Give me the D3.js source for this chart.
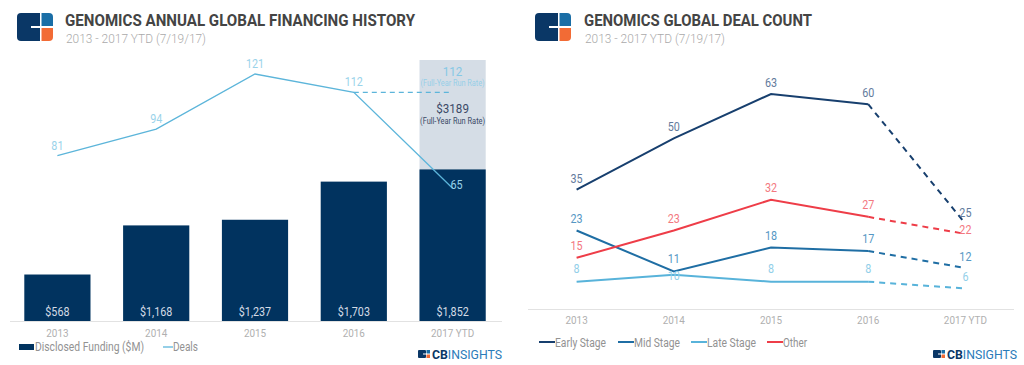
<!DOCTYPE html>
<html><head><meta charset="utf-8">
<script src="https://cdn.jsdelivr.net/npm/d3@7"></script>
<style>body{margin:0;background:#fff;}svg{display:block;font-family:Roboto,"Noto Sans",sans-serif;}
.lt{font-weight:400;}</style>
</head><body>
<svg id="c" width="1024" height="365"></svg>
<script>
const years = ["2013", "2014", "2015", "2016", "2017 YTD"];
const funding = [568, 1168, 1237, 1703, 1852];
const fundingRunRate = 3189;
const deals = [81, 94, 121, 112, 65];
const dealsRunRate = 112;
const earlyStage = [35, 50, 63, 60, 25];
const midStage = [23, 11, 18, 17, 12];
const lateStage = [8, 10, 8, 8, 6];
const otherStage = [15, 23, 32, 27, 22];
const stageNames = ["Early Stage", "Mid Stage", "Late Stage", "Other"];

const svg = d3.select("#c");
const NAVY = "#01335f";
const COND = 0.86;

// narrow the glyphs horizontally, like a condensed face
function condense(sel) {
  sel.each(function () {
    const w = this.getComputedTextLength();
    d3.select(this).attr("textLength", w * COND).attr("lengthAdjust", "spacingAndGlyphs");
  });
  return sel;
}

function logo(g, x, y) {
  const w = 36, h = 28;
  const cp = "lg" + x;
  g.append("clipPath").attr("id", cp).append("rect").attr("x", x).attr("y", y).attr("width", w).attr("height", h).attr("rx", 4);
  const lg = g.append("g").attr("clip-path", `url(#${cp})`);
  lg.append("rect").attr("x", x).attr("y", y).attr("width", 24).attr("height", h).attr("fill", "#0a3766");
  lg.append("rect").attr("x", x + 24).attr("y", y).attr("width", 12).attr("height", 13).attr("fill", "#1a6ea6");
  lg.append("rect").attr("x", x + 24).attr("y", y + 15).attr("width", 12).attr("height", 13).attr("fill", "#f26b35");
  lg.append("rect").attr("x", x + 23).attr("y", y + 15).attr("width", 1).attr("height", 13).attr("fill", "#0a3766");
  lg.append("rect").attr("x", x + 14).attr("y", y + 13).attr("width", 22).attr("height", 2).attr("fill", "#fff");
  lg.append("rect").attr("x", x + 23).attr("y", y).attr("width", 1.5).attr("height", h).attr("fill", "#fff");
}
function header(x, lx, title, tw) {
  logo(svg, lx, 13);
  svg.append("text").attr("x", x).attr("y", 26).attr("font-size", 16.5).attr("font-weight", 700)
    .attr("fill", "#444").attr("textLength", tw).attr("lengthAdjust", "spacingAndGlyphs").text(title);
  svg.append("text").attr("x", x + 1).attr("y", 43).attr("font-size", 13).attr("font-weight", 300).attr("fill", "#aaa")
    .attr("textLength", 140).attr("lengthAdjust", "spacingAndGlyphs").text("2013 - 2017 YTD (7/19/17)");
}
function cbLogo(x, y) {
  const g = svg.append("g");
  g.append("rect").attr("x", x).attr("y", y).attr("width", 8).attr("height", 8).attr("rx", 1).attr("fill", "#0a3766");
  g.append("rect").attr("x", x + 8.5).attr("y", y).attr("width", 3.5).attr("height", 3.5).attr("fill", "#1a6ea6");
  g.append("rect").attr("x", x + 8.5).attr("y", y + 4.5).attr("width", 3.5).attr("height", 3.5).attr("fill", "#f26b35");
  g.append("rect").attr("x", x + 5).attr("y", y + 3.5).attr("width", 4).attr("height", 1).attr("fill", "#fff");
  const t = g.append("text").attr("x", x + 14).attr("y", y + 8.5).attr("font-size", 12).attr("textLength", 70).attr("lengthAdjust", "spacingAndGlyphs");
  t.append("tspan").attr("font-weight", 700).attr("fill", "#0a3766").text("CB");
  t.append("tspan").attr("fill", "#2b7bb9").text("INSIGHTS");
}
function txt(x, y, s, fill, size, anchor) {
  return svg.append("text").attr("class", "lt").attr("x", x).attr("y", y).attr("font-size", size)
    .attr("fill", fill).attr("text-anchor", anchor || "start").text(s);
}

// ---------- LEFT CHART ----------
header(65, 17, "GENOMICS ANNUAL GLOBAL FINANCING HISTORY", 350);
const baseL = 321;
const xL = d3.scaleBand().domain(years).range([8, 502]).paddingInner(0.33).paddingOuter(0.165);
const yF = d3.scaleLinear().domain([0, fundingRunRate]).range([baseL, 60]);
const yD = d3.scaleLinear().domain([0, 121]).range([baseL, 74]);
const bw = xL.bandwidth();
const cx = d => xL(d) + bw / 2;

const last = years[years.length - 1];
svg.append("rect").attr("x", xL(last)).attr("y", yF(fundingRunRate)).attr("width", bw)
  .attr("height", baseL - yF(fundingRunRate)).attr("fill", "#d5dde6");

svg.selectAll(".bar").data(funding).join("rect")
  .attr("x", (d, i) => xL(years[i])).attr("y", d => yF(d)).attr("width", bw)
  .attr("height", d => baseL - yF(d)).attr("fill", NAVY);
condense(svg.selectAll(".blab").data(funding).join("text").attr("class", "lt")
  .attr("x", (d, i) => cx(years[i])).attr("y", baseL - 5).attr("text-anchor", "middle")
  .attr("font-size", 12.5).attr("fill", "#d4dbe5").text(d => "$" + d3.format(",")(d)));

svg.append("line").attr("x1", 10).attr("x2", 502).attr("y1", baseL + 0.5).attr("y2", baseL + 0.5).attr("stroke", "#e2e2e2");

const dealLine = d3.line().x((d, i) => cx(years[i])).y(d => yD(d));
svg.append("path").attr("d", dealLine(deals)).attr("fill", "none").attr("stroke", "#5cb5da").attr("stroke-width", 1.3);
svg.append("line").attr("x1", cx(years[3])).attr("x2", cx(last)).attr("y1", yD(dealsRunRate)).attr("y2", yD(dealsRunRate))
  .attr("stroke", "#5cb5da").attr("stroke-width", 1.3).attr("stroke-dasharray", "5,4");
condense(svg.selectAll(".dlab").data(deals).join("text").attr("class", "lt")
  .attr("x", (d, i) => i === 4 ? cx(years[i]) + 4 : cx(years[i]))
  .attr("y", (d, i) => i === 4 ? yD(d) + 1 : yD(d) - 6)
  .attr("text-anchor", "middle").attr("font-size", 12.5).attr("fill", "#9ad3ea").text(d => d));

const rx = cx(last);
condense(txt(rx, 76, dealsRunRate, "#86c8e5", 13.5, "middle"));
txt(rx, 86, "(Full-Year Run Rate)", "#95cfe8", 8.5, "middle").attr("textLength", 64).attr("lengthAdjust", "spacingAndGlyphs");
condense(txt(rx, 113, "$" + fundingRunRate, "#3b4a66", 13.5, "middle"));
txt(rx, 124, "(Full-Year Run Rate)", "#3b4a66", 8.5, "middle").attr("textLength", 65).attr("lengthAdjust", "spacingAndGlyphs");

condense(svg.selectAll(".xl").data(years).join("text").attr("class", "lt")
  .attr("x", d => cx(d)).attr("y", 337).attr("text-anchor", "middle").attr("font-size", 11.5).attr("fill", "#b0b0b0").text(d => d));

svg.append("rect").attr("x", 19).attr("y", 344).attr("width", 15).attr("height", 6).attr("fill", NAVY);
txt(35, 351, "Disclosed Funding ($M)", "#929292", 12.5).attr("textLength", 109).attr("lengthAdjust", "spacingAndGlyphs");
svg.append("line").attr("x1", 163).attr("x2", 173).attr("y1", 347).attr("y2", 347).attr("stroke", "#5cb5da").attr("stroke-width", 1.3);
txt(173, 351, "Deals", "#929292", 12.5).attr("textLength", 25).attr("lengthAdjust", "spacingAndGlyphs");
cbLogo(418, 350);

// ---------- RIGHT CHART ----------
header(584, 535, "GENOMICS GLOBAL DEAL COUNT", 228);
const baseR = 309;
const xR = d3.scalePoint().domain(years).range([576.6, 965.4]);
const yR = d3.scaleLinear().domain([0, 63]).range([baseR, 94]);
svg.append("line").attr("x1", 528).attr("x2", 1014).attr("y1", baseR + 0.5).attr("y2", baseR + 0.5).attr("stroke", "#e2e2e2");
condense(svg.selectAll(".xr").data(years).join("text").attr("class", "lt")
  .attr("x", d => xR(d)).attr("y", 324).attr("text-anchor", "middle").attr("font-size", 11.5).attr("fill", "#b0b0b0").text(d => d));

const series = [
  {vals: earlyStage, color: "#173f6e", lab: "#627a9c"},
  {vals: midStage, color: "#1f6ea4", lab: "#5597c4"},
  {vals: lateStage, color: "#58b3da", lab: "#92cfe9"},
  {vals: otherStage, color: "#ee3d48", lab: "#f3787f"}
];
const labelDy = [[-7,-7,-7,-7,-7],[-8,-8,-8,-8,-7],[-9,5,-9,-9,-8],[-8,-8,-8,-8,0]];
const lineR = d3.line().x((d, i) => xR(years[i])).y(d => yR(d));
series.forEach((s, k) => {
  svg.append("path").attr("d", lineR(s.vals.slice(0, 4))).attr("fill", "none").attr("stroke", s.color).attr("stroke-width", 2);
  svg.append("path").attr("d", d3.line().x(d => xR(d[0])).y(d => yR(d[1]))([[years[3], s.vals[3]], [years[4], s.vals[4]]]))
    .attr("fill", "none").attr("stroke", s.color).attr("stroke-width", 2).attr("stroke-dasharray", "6,5");
});
series.forEach((s, k) => {
  condense(svg.selectAll(".sl" + k).data(s.vals).join("text").attr("class", "lt")
    .attr("x", (d, i) => xR(years[i])).attr("y", (d, i) => yR(d) + labelDy[k][i])
    .attr("text-anchor", "middle").attr("font-size", 12.5).attr("fill", s.lab).text(d => d));
});

const legX = [539, 618, 691, 767];
const legW = [51, 46, 49, 24];
stageNames.forEach((n, k) => {
  svg.append("line").attr("x1", legX[k]).attr("x2", legX[k] + 16).attr("y1", 342).attr("y2", 342).attr("stroke", series[k].color).attr("stroke-width", 2);
  txt(legX[k] + 16, 346.5, n, "#929292", 12.5).attr("textLength", legW[k]).attr("lengthAdjust", "spacingAndGlyphs");
});
cbLogo(933, 350);
</script>
</body></html>
